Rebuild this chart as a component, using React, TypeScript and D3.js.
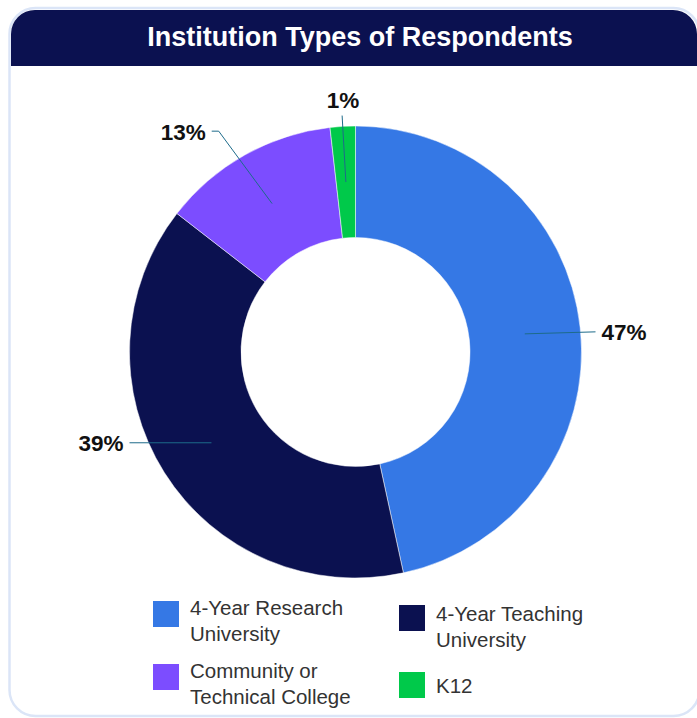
import React from "react";
import * as d3 from "d3";

const categories = [
  "4-Year Research University",
  "4-Year Teaching University",
  "Community or Technical College",
  "K12",
];
const values = [46.6, 38.9, 12.7, 1.8];
const percentLabels = ["47%", "39%", "13%", "1%"];
const colors = ["#3578e5", "#0b1150", "#7c4dff", "#00c94a"];
const legendLines = [
  ["4-Year Research", "University"],
  ["4-Year Teaching", "University"],
  ["Community or", "Technical College"],
  ["K12"],
];

const W = 697;
const H = 718;
const cx = 355.5;
const cy = 352;
const R = 226;
const r0 = 114.5;

export default function App() {
  const pie = d3.pie<number>().sort(null).value((d) => d)(values);
  const arc = d3.arc<d3.PieArcDatum<number>>().innerRadius(r0).outerRadius(R);
  const font = "'Liberation Sans', Arial, Helvetica, sans-serif";

  const labels = pie.map((p, i) => {
    const a = (p.startAngle + p.endAngle) / 2;
    const [c0x, c0y] = arc.centroid(p);
    const sx = cx + c0x;
    const sy = cy + c0y;
    const s = Math.sin(a);
    let ex: number, ey: number;
    let pts: [number, number][];
    let tx: number, ty: number, anchor: string;
    if (Math.abs(s) > 0.8) {
      ex = cx + Math.sign(s) * (s > 0 ? R + 14 : R);
      ey = sy - (s > 0 ? 2 : 0);
      pts = [[sx, sy], [ex, ey]];
      tx = ex + Math.sign(s) * 6;
      ty = ey;
      anchor = s > 0 ? "start" : "end";
    } else {
      const rr = R + 8 + 50 * Math.abs(s);
      ex = cx + rr * Math.sin(a) * (Math.abs(s) > 0.2 ? 1.08 : 1);
      ey = cy - rr * Math.cos(a) * (Math.abs(s) > 0.2 ? 0.98 : 1);
      if (Math.abs(s) > 0.2) {
        const hx = ex + Math.sign(s) * 7;
        pts = [[sx, sy], [ex, ey], [hx, ey]];
        tx = hx + Math.sign(s) * 6;
        ty = ey + 1;
        anchor = s > 0 ? "start" : "end";
      } else {
        pts = [[sx, sy], [ex, ey]];
        tx = ex + 1;
        ty = ey - 15;
        anchor = "middle";
      }
    }
    return { pts, tx, ty, anchor, text: percentLabels[i] };
  });

  const line = d3.line();

  const legendX = [153, 399];
  const legendY = [601, 605, 664, 672];

  const titleBar = (() => {
    const x0 = 11, x1 = 697, y0 = 10, y1 = 66, rad = 24;
    const p = d3.path();
    p.moveTo(x0, y1);
    p.lineTo(x0, y0 + rad);
    p.arcTo(x0, y0, x0 + rad, y0, rad);
    p.lineTo(x1 - rad, y0);
    p.arcTo(x1, y0, x1, y0 + rad, rad);
    p.lineTo(x1, y1);
    p.closePath();
    return p.toString();
  })();

  return (
    <svg
      width={W}
      height={H}
      style={{ position: "absolute", left: 0, top: 0, background: "#ffffff" }}
    >
      <rect
        x={9.5}
        y={8}
        width={690}
        height={708}
        rx={26}
        fill="#ffffff"
        stroke="#dbe5f7"
        strokeWidth={2.5}
      />
      <path d={titleBar} fill="#0b1150" />
      <text
        x={360}
        y={46}
        textAnchor="middle"
        fill="#ffffff"
        fontFamily={font}
        fontWeight="bold"
        fontSize={27}
      >
        Institution Types of Respondents
      </text>
      <g transform={`translate(${cx},${cy})`}>
        {pie.map((p, i) => (
          <path key={i} d={arc(p) || ""} fill={colors[i]} stroke="#ffffff" strokeWidth={0.5} />
        ))}
      </g>
      {labels.map((l, i) => (
        <g key={i}>
          <path d={line(l.pts) || ""} fill="none" stroke="#1d6b8a" strokeWidth={1} />
          <text
            x={l.tx}
            y={l.ty}
            dy="0.35em"
            textAnchor={l.anchor as any}
            fontFamily={font}
            fontWeight="bold"
            fontSize={22.5}
            fill="#111111"
          >
            {l.text}
          </text>
        </g>
      ))}
      {categories.map((c, i) => {
        const x = legendX[i % 2];
        const y = legendY[i];
        const lines = legendLines[i];
        return (
          <g key={c}>
            <rect x={x} y={y} width={26} height={26} fill={colors[i]} />
            {lines.map((t, j) => (
              <text
                key={j}
                x={x + 37}
                y={lines.length === 1 ? y + 20.5 : y + 13.5 + (i === 1 ? 2 : 0) + j * 26}
                fontFamily={font}
                fontSize={20.5}
                fill="#333333"
              >
                {t}
              </text>
            ))}
          </g>
        );
      })}
    </svg>
  );
}
